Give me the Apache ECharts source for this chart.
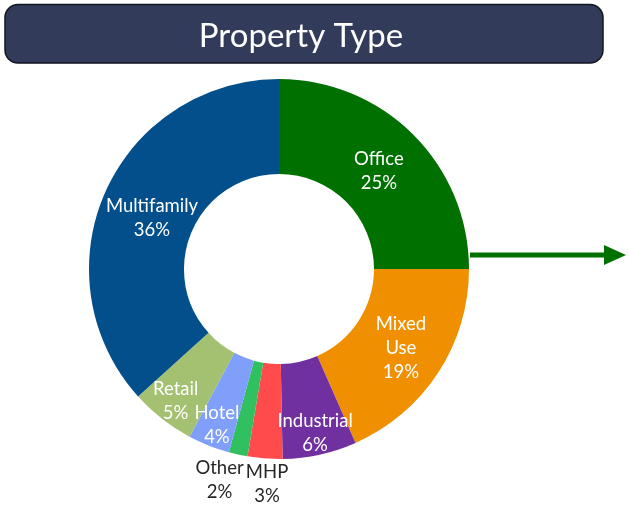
<!DOCTYPE html>
<html>
<head>
<meta charset="utf-8">
<script src="https://cdn.jsdelivr.net/npm/echarts@6/dist/echarts.min.js"></script>
<style>html,body{margin:0;padding:0;background:#fff;}#c{width:629px;height:509px;}</style>
</head>
<body>
<div id="c"></div>
<script>
var categories = ['Office', 'Mixed\nUse', 'Industrial', 'MHP', 'Other', 'Hotel', 'Retail', 'Multifamily'];
var values = [25, 18.4, 6.3, 2.95, 1.6, 3.55, 5.5, 36.7];
// percentage labels as printed on the chart
var pctLabels = ['25%', '19%', '6%', '3%', '2%', '4%', '5%', '36%'];
var colors = ['#007000', '#f09000', '#7030a0', '#ff4b4b', '#30c060', '#7f9ffa', '#a3c170', '#024f8c'];
// which ring each label sits on: 0 = mid ring, 1 = outer part of ring, 2 = outside
var labelRing = [0, 0, 1, 2, 2, 1, 1, 0];
var labelPadding = [[0, 6, 0, 0], 0, 0, [0, 0, 0, 8], [0, 26, 0, 0], 0, 0, [0, 0, 0, 12]];
// extra space above a label (moves it down by half)
var labelDrop = [10, 0, 0, 0, 0, 0, 0, 16];

var cx = 279, cy = 269;
var font = 'Lato, "Liberation Sans", sans-serif';

function buildData(ring, visible) {
  return categories.map(function (name, i) {
    var show = labelRing[i] === ring;
    return {
      name: name,
      value: values[i],
      pct: pctLabels[i],
      drop: labelDrop[i],
      itemStyle: { color: visible ? colors[i] : 'transparent' },
      label: {
        show: show,
        color: ring === 2 ? '#262626' : '#fff',
        padding: labelPadding[i]
      }
    };
  });
}

function labelCfg() {
  return {
    position: 'inside',
    formatter: function (p) {
      var t = p.name + '\n' + p.data.pct;
      if (p.data.drop) t = '{sp' + p.data.drop + '|}\n' + t;
      return t;
    },
    rich: {
      sp10: { height: 10, lineHeight: 10, fontSize: 1 },
      sp16: { height: 16, lineHeight: 16, fontSize: 1 }
    },
    fontFamily: font,
    fontSize: 18.5,
    lineHeight: 24,
    align: 'center'
  };
}

function pieSeries(radius, ring, visible) {
  return {
    type: 'pie',
    center: [cx, cy],
    radius: radius,
    startAngle: 90,
    clockwise: true,
    silent: true,
    avoidLabelOverlap: false,
    labelLayout: { hideOverlap: false },
    emphasis: { disabled: true },
    label: labelCfg(),
    labelLine: { show: false },
    itemStyle: { borderWidth: 0 },
    data: buildData(ring, visible)
  };
}

var chart = echarts.init(document.getElementById('c'), null, { renderer: 'canvas' });
chart.setOption({
  animation: false,
  graphic: [
    {
      type: 'rect',
      shape: { x: 5, y: 4.5, width: 598, height: 58.5, r: 13 },
      style: { fill: '#323c5a', stroke: '#121520', lineWidth: 1.5 }
    },
    {
      type: 'text',
      x: 301, y: 36,
      style: {
        text: 'Property Type', fill: '#fff', font: '33px Lato, "Liberation Sans", sans-serif',
        textAlign: 'center', textVerticalAlign: 'middle'
      }
    },
    {
      type: 'line',
      shape: { x1: 470, y1: 255, x2: 606, y2: 255 },
      style: { stroke: '#007000', lineWidth: 5 }
    },
    {
      type: 'polygon',
      shape: { points: [[604, 245], [626, 255], [604, 265]] },
      style: { fill: '#007000' }
    }
  ],
  series: [
    pieSeries([95, 190], 0, true),
    pieSeries([140, 190], 1, false),
    pieSeries([190, 236], 2, false)
  ]
});
</script>
</body>
</html>
